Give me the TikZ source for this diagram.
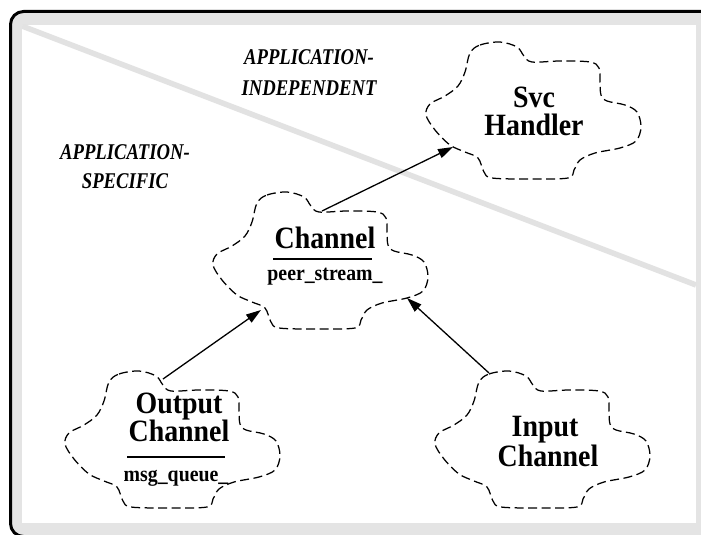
\documentclass[tikz,border=0pt]{standalone}
\usepackage{fontspec}
\setmainfont{Liberation Serif}
\newfontfamily\labfont[FakeStretch=0.83]{Liberation Serif}
\newfontfamily\tallfont[FakeStretch=0.9]{Liberation Serif}
\usetikzlibrary{arrows.meta,calc}
\definecolor{bandgray}{RGB}{228,228,228}
\definecolor{diaggray}{RGB}{226,226,226}
\tikzset{
  cloudline/.style={line width=1.25pt, dash pattern=on 9pt off 4.5pt},
  arr/.style={line width=1.3pt, -{Triangle[length=15pt,width=9.5pt]}},
  bigtxt/.style={font=\tallfont\fontsize{31}{33}\selectfont\bfseries, anchor=base, inner sep=0pt},
  smalltxt/.style={font=\tallfont\fontsize{22}{24}\selectfont\bfseries, anchor=base, inner sep=0pt},
  regiontxt/.style={font=\labfont\fontsize{22.5}{24}\selectfont\bfseries\itshape, anchor=base, inner sep=0pt},
}
\newcommand\drawcloud[1]{%
  \draw[cloudline, shift={(#1)}] plot[smooth cycle, tension=0.55] coordinates {
    (-63,-57) (-53,-65) (-33,-68) (-16,-63) (-9,-54) (-1,-48)
    (27,-49) (57,-48) (66,-42) (67,-28) (68,-15) (74,-9)
    (92,-5) (104,2) (108,17) (103,31) (87,38) (62,43) (47,50)
    (41,60) (35,68) (-3,69) (-41,68) (-49,62) (-55,48)
    (-68,42) (-83,35) (-98,20) (-107,5) (-103,-6) (-88,-14)
    (-75,-24) (-68,-38)};}
\begin{document}
\begin{tikzpicture}[x=1pt,y=-1pt]
\useasboundingbox (0,0) rectangle (701,535);
% frame
\begin{scope}
  \clip (0,0) rectangle (701,535);
  \fill[bandgray, rounded corners=13pt] (10.5,11.5) rectangle (720,536.5);
  \draw[line width=3pt, rounded corners=13pt] (720,11.5) -- (10.5,11.5) -- (10.5,536.5) -- (720,536.5);
\end{scope}
\fill[white] (22,25) rectangle (696,523);
\begin{scope}
  \clip (22,25) rectangle (696,523);
  \draw[diaggray, line width=5.5pt] (22,26) -- (696,285);
\end{scope}
% region labels
\node[regiontxt] (indA) at (309,65) {APPLICATION-};
\node[regiontxt] (indB) at (309,95) {INDEPENDENT};
\node[regiontxt] (specA) at (125,159) {APPLICATION-};
\node[regiontxt] (specB) at (125,188) {SPECIFIC};
% cloud centres
\coordinate (svc) at (533,110);
\coordinate (chan) at (320,260);
\coordinate (outc) at (172,439);
\coordinate (inc) at (542,439);
\drawcloud{svc}
\drawcloud{chan}
\drawcloud{outc}
\drawcloud{inc}
% texts
\node[bigtxt] (svcA) at (534,107) {Svc};
\node[bigtxt] (svcB) at (534,135) {Handler};
\node[bigtxt] (chanA) at (325,248) {Channel};
\node[smalltxt] (chanB) at (325,280) {peer\_stream\_};
\draw[line width=1.3pt] (273,259) -- (372,259);
\node[bigtxt] (outA) at (179,413) {Output};
\node[bigtxt] (outB) at (179,441) {Channel};
\node[smalltxt] (outC) at (176,481) {msg\_queue\_};
\draw[line width=1.3pt] (127,457) -- (225,457);
\node[bigtxt] (inA) at (545,436) {Input};
\node[bigtxt] (inB) at (548,466) {Channel};
% arrow end points on clouds
\coordinate (chanTop) at ($(chan)+(2,-49)$);
\coordinate (svcIn) at ($(svc)+(-80,37)$);
\coordinate (outTop) at ($(outc)+(-9,-60)$);
\coordinate (chanInL) at ($(chan)+(-59,50)$);
\coordinate (inTop) at ($(inc)+(-53,-66)$);
\coordinate (chanInR) at ($(chan)+(87,38)$);
\draw[arr] (chanTop) -- (svcIn);
\draw[arr] (outTop) -- (chanInL);
\draw[arr] (inTop) -- (chanInR);
\end{tikzpicture}
\end{document}
